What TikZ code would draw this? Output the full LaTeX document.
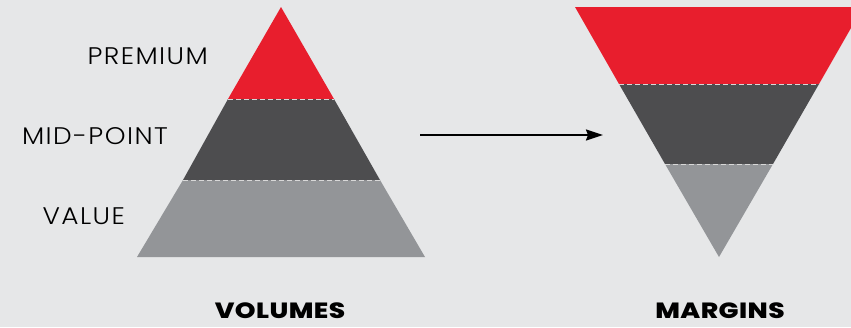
\documentclass[tikz,border=0pt]{standalone}
\usepackage{fontspec}
\newfontfamily\lightfont[LetterSpace=6,FakeStretch=1.1]{Poppins Light}
\newfontfamily\heavyfont[LetterSpace=2,FakeStretch=1.2]{Poppins ExtraBold}
\usetikzlibrary{arrows.meta}
\definecolor{bg}{HTML}{E6E7E8}
\definecolor{topred}{HTML}{E81E2D}
\definecolor{middark}{HTML}{4D4D4F}
\definecolor{lowgray}{HTML}{939598}
\definecolor{dashcol}{HTML}{D8D8D8}
\tikzset{
  lbl/.style={anchor=base east, inner sep=0pt, font=\lightfont\fontsize{24}{24}\selectfont, text=black},
  ttl/.style={anchor=base, inner sep=0pt, text depth=0pt, font=\heavyfont\fontsize{22}{22}\selectfont, text=black},
  sep/.style={draw=dashcol, line width=0.9pt, dash pattern=on 5pt off 3pt},
  flow/.style={line width=2pt, -{Stealth[length=17pt,width=11pt,inset=2pt]}}
}
\begin{document}
\begin{tikzpicture}[x=1pt,y=-1pt]
\fill[bg] (0,0) rectangle (851,327);
\useasboundingbox (0,0) rectangle (851,327);
\clip (0,0) rectangle (851,327);
% left pyramid
\fill[lowgray] (183,180) -- (380,180) -- (425,257) -- (137,257) -- cycle;
\fill[middark] (228,99) -- (334,99) -- (380,180) -- (183,180) -- cycle;
\fill[topred] (281,7) -- (334,99) -- (228,99) -- cycle;
\draw[sep] (228,99) -- (334,99);
\draw[sep] (183,180) -- (380,180);
% right inverted pyramid
\fill[topred] (575,7) -- (863,7) -- (819,84) -- (619,84) -- cycle;
\fill[middark] (619,84) -- (819,84) -- (773,164) -- (665,164) -- cycle;
\fill[lowgray] (665,164) -- (773,164) -- (719,257) -- cycle;
\draw[sep] (619,84) -- (819,84);
\draw[sep] (665,164) -- (773,164);
% labels
\node[lbl] (premium) at (208,64) {PREMIUM};
\node[lbl] (midpoint) at (168,144) {MID-POINT};
\node[lbl] (value) at (125,224) {VALUE};
\node[ttl] (volumes) at (280,318) {VOLUMES};
\node[ttl] (margins) at (720,318) {MARGINS};
% arrow
\coordinate (astart) at (420,135);
\coordinate (aend) at (603,135);
\draw[flow] (astart) -- (aend);
\end{tikzpicture}
\end{document}
